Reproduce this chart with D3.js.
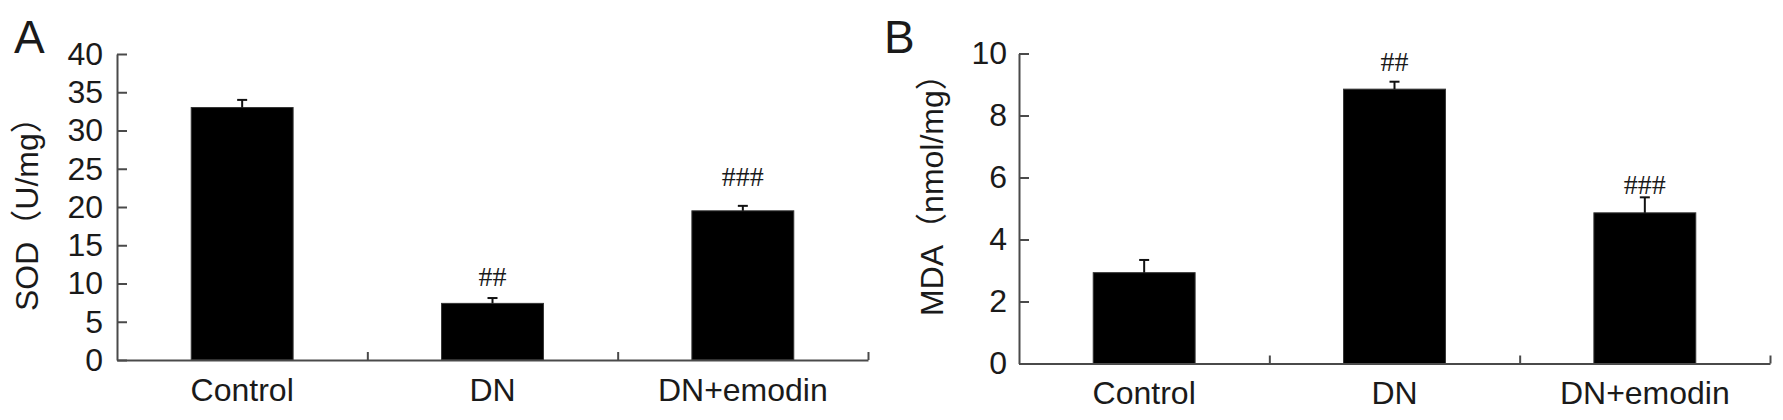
<!DOCTYPE html>
<html>
<head>
<meta charset="utf-8">
<script src="https://cdn.jsdelivr.net/npm/d3@7"></script>
<style>
  html, body { margin: 0; padding: 0; background: #fff; }
  svg { display: block; }
  text { font-family: "Liberation Sans", Arial, "Noto Sans CJK SC", sans-serif; fill: #1a1a1a; }
</style>
</head>
<body>
<svg id="chart" width="1783" height="420"></svg>
<script>
// ---- data ----
const categories = ["Control", "DN", "DN+emodin"];

const sodValues = [33.0, 7.4, 19.5];
const sodErrors = [1.0, 0.7, 0.65];
const sodMarks = ["", "##", "###"];
const sodMarkAt = [null, 11.0, 24.0];
const sodTicks = [0, 5, 10, 15, 20, 25, 30, 35, 40];

const mdaValues = [2.93, 8.85, 4.86];
const mdaErrors = [0.41, 0.24, 0.5];
const mdaMarks = ["", "##", "###"];
const mdaMarkAt = [null, 9.74, 5.79];
const mdaTicks = [0, 2, 4, 6, 8, 10];

const panels = [
  { letter: "A", title: "SOD（U/mg）", values: sodValues, errors: sodErrors, marks: sodMarks, markAt: sodMarkAt,
    ticks: sodTicks, max: 40, x0: 117, x1: 868, yTop: 54, yBot: 360, letterX: 14, titleX: 38, titleY: 311, labelGap: 14 },
  { letter: "B", title: "MDA（nmol/mg）", values: mdaValues, errors: mdaErrors, marks: mdaMarks, markAt: mdaMarkAt,
    ticks: mdaTicks, max: 10, x0: 1019, x1: 1770, yTop: 53.5, yBot: 363.5, letterX: 884, titleX: 943, titleY: 316, labelGap: 12 }
];

const svg = d3.select("#chart");
const axisColor = "#4a4a4a";

panels.forEach(p => {
  const g = svg.append("g");
  const x = d3.scaleBand().domain(categories).range([p.x0, p.x1]).paddingInner(0).paddingOuter(0);
  const y = d3.scaleLinear().domain([0, p.max]).range([p.yBot, p.yTop]);
  const barW = x.bandwidth() * 0.407;

  // bars
  g.selectAll("rect.bar").data(p.values).join("rect")
    .attr("class", "bar")
    .attr("x", (d, i) => x(categories[i]) + x.bandwidth() / 2 - barW / 2)
    .attr("y", d => y(d))
    .attr("width", barW)
    .attr("height", d => y(0) - y(d))
    .attr("fill", "#000")
    .attr("stroke", "#333")
    .attr("stroke-width", 1);

  // error bars (upper only)
  const cap = 10;
  p.values.forEach((v, i) => {
    const cx = x(categories[i]) + x.bandwidth() / 2;
    g.append("line").attr("x1", cx).attr("x2", cx).attr("y1", y(v)).attr("y2", y(v + p.errors[i]))
      .attr("stroke", "#111").attr("stroke-width", 2);
    g.append("line").attr("x1", cx - cap / 2).attr("x2", cx + cap / 2)
      .attr("y1", y(v + p.errors[i])).attr("y2", y(v + p.errors[i]))
      .attr("stroke", "#111").attr("stroke-width", 2);
  });

  // significance marks
  p.marks.forEach((m, i) => {
    if (!m) return;
    g.append("text")
      .attr("x", x(categories[i]) + x.bandwidth() / 2)
      .attr("y", y(p.markAt[i]))
      .attr("dy", "0.35em")
      .attr("text-anchor", "middle")
      .style("font-family", "'Liberation Serif', 'Times New Roman', serif")
      .style("font-size", "28px")
      .text(m);
  });

  // y axis
  const yAxis = d3.axisLeft(y).tickValues(p.ticks).tickSizeInner(-10).tickSizeOuter(0).tickPadding(p.labelGap);
  const ya = g.append("g").attr("transform", `translate(${p.x0},0)`).call(yAxis);
  ya.select(".domain").attr("stroke", axisColor).attr("stroke-width", 2);
  ya.selectAll(".tick line").attr("stroke", axisColor).attr("stroke-width", 2);
  ya.selectAll(".tick text").style("font-size", "32px").attr("fill", "#1a1a1a")
    .style("font-family", "'Liberation Sans', Arial, sans-serif");

  // x axis with labels at band centres
  const xAxis = d3.axisBottom(x).tickSize(0).tickPadding(18);
  const xa = g.append("g").attr("transform", `translate(0,${p.yBot})`).call(xAxis);
  xa.select(".domain").attr("stroke", axisColor).attr("stroke-width", 2);
  xa.selectAll(".tick text").style("font-size", "32px").attr("fill", "#1a1a1a")
    .style("font-family", "'Liberation Sans', Arial, sans-serif");

  // boundary ticks between categories (pointing up)
  const xb = d3.scaleLinear().domain([0, categories.length]).range([p.x0, p.x1]);
  const bAxis = d3.axisBottom(xb).tickValues(d3.range(1, categories.length + 1)).tickSizeInner(-8).tickSizeOuter(0).tickFormat("");
  const ba = g.append("g").attr("transform", `translate(0,${p.yBot})`).call(bAxis);
  ba.select(".domain").remove();
  ba.selectAll(".tick line").attr("stroke", axisColor).attr("stroke-width", 2);

  // y title
  g.append("text")
    .attr("transform", `translate(${p.titleX},${p.titleY}) rotate(-90)`)
    .attr("text-anchor", "start")
    .style("font-size", "32px")
    .text(p.title);

  // panel letter
  g.append("text")
    .attr("x", p.letterX).attr("y", 53)
    .style("font-size", "46px")
    .text(p.letter);
});
</script>
</body>
</html>
